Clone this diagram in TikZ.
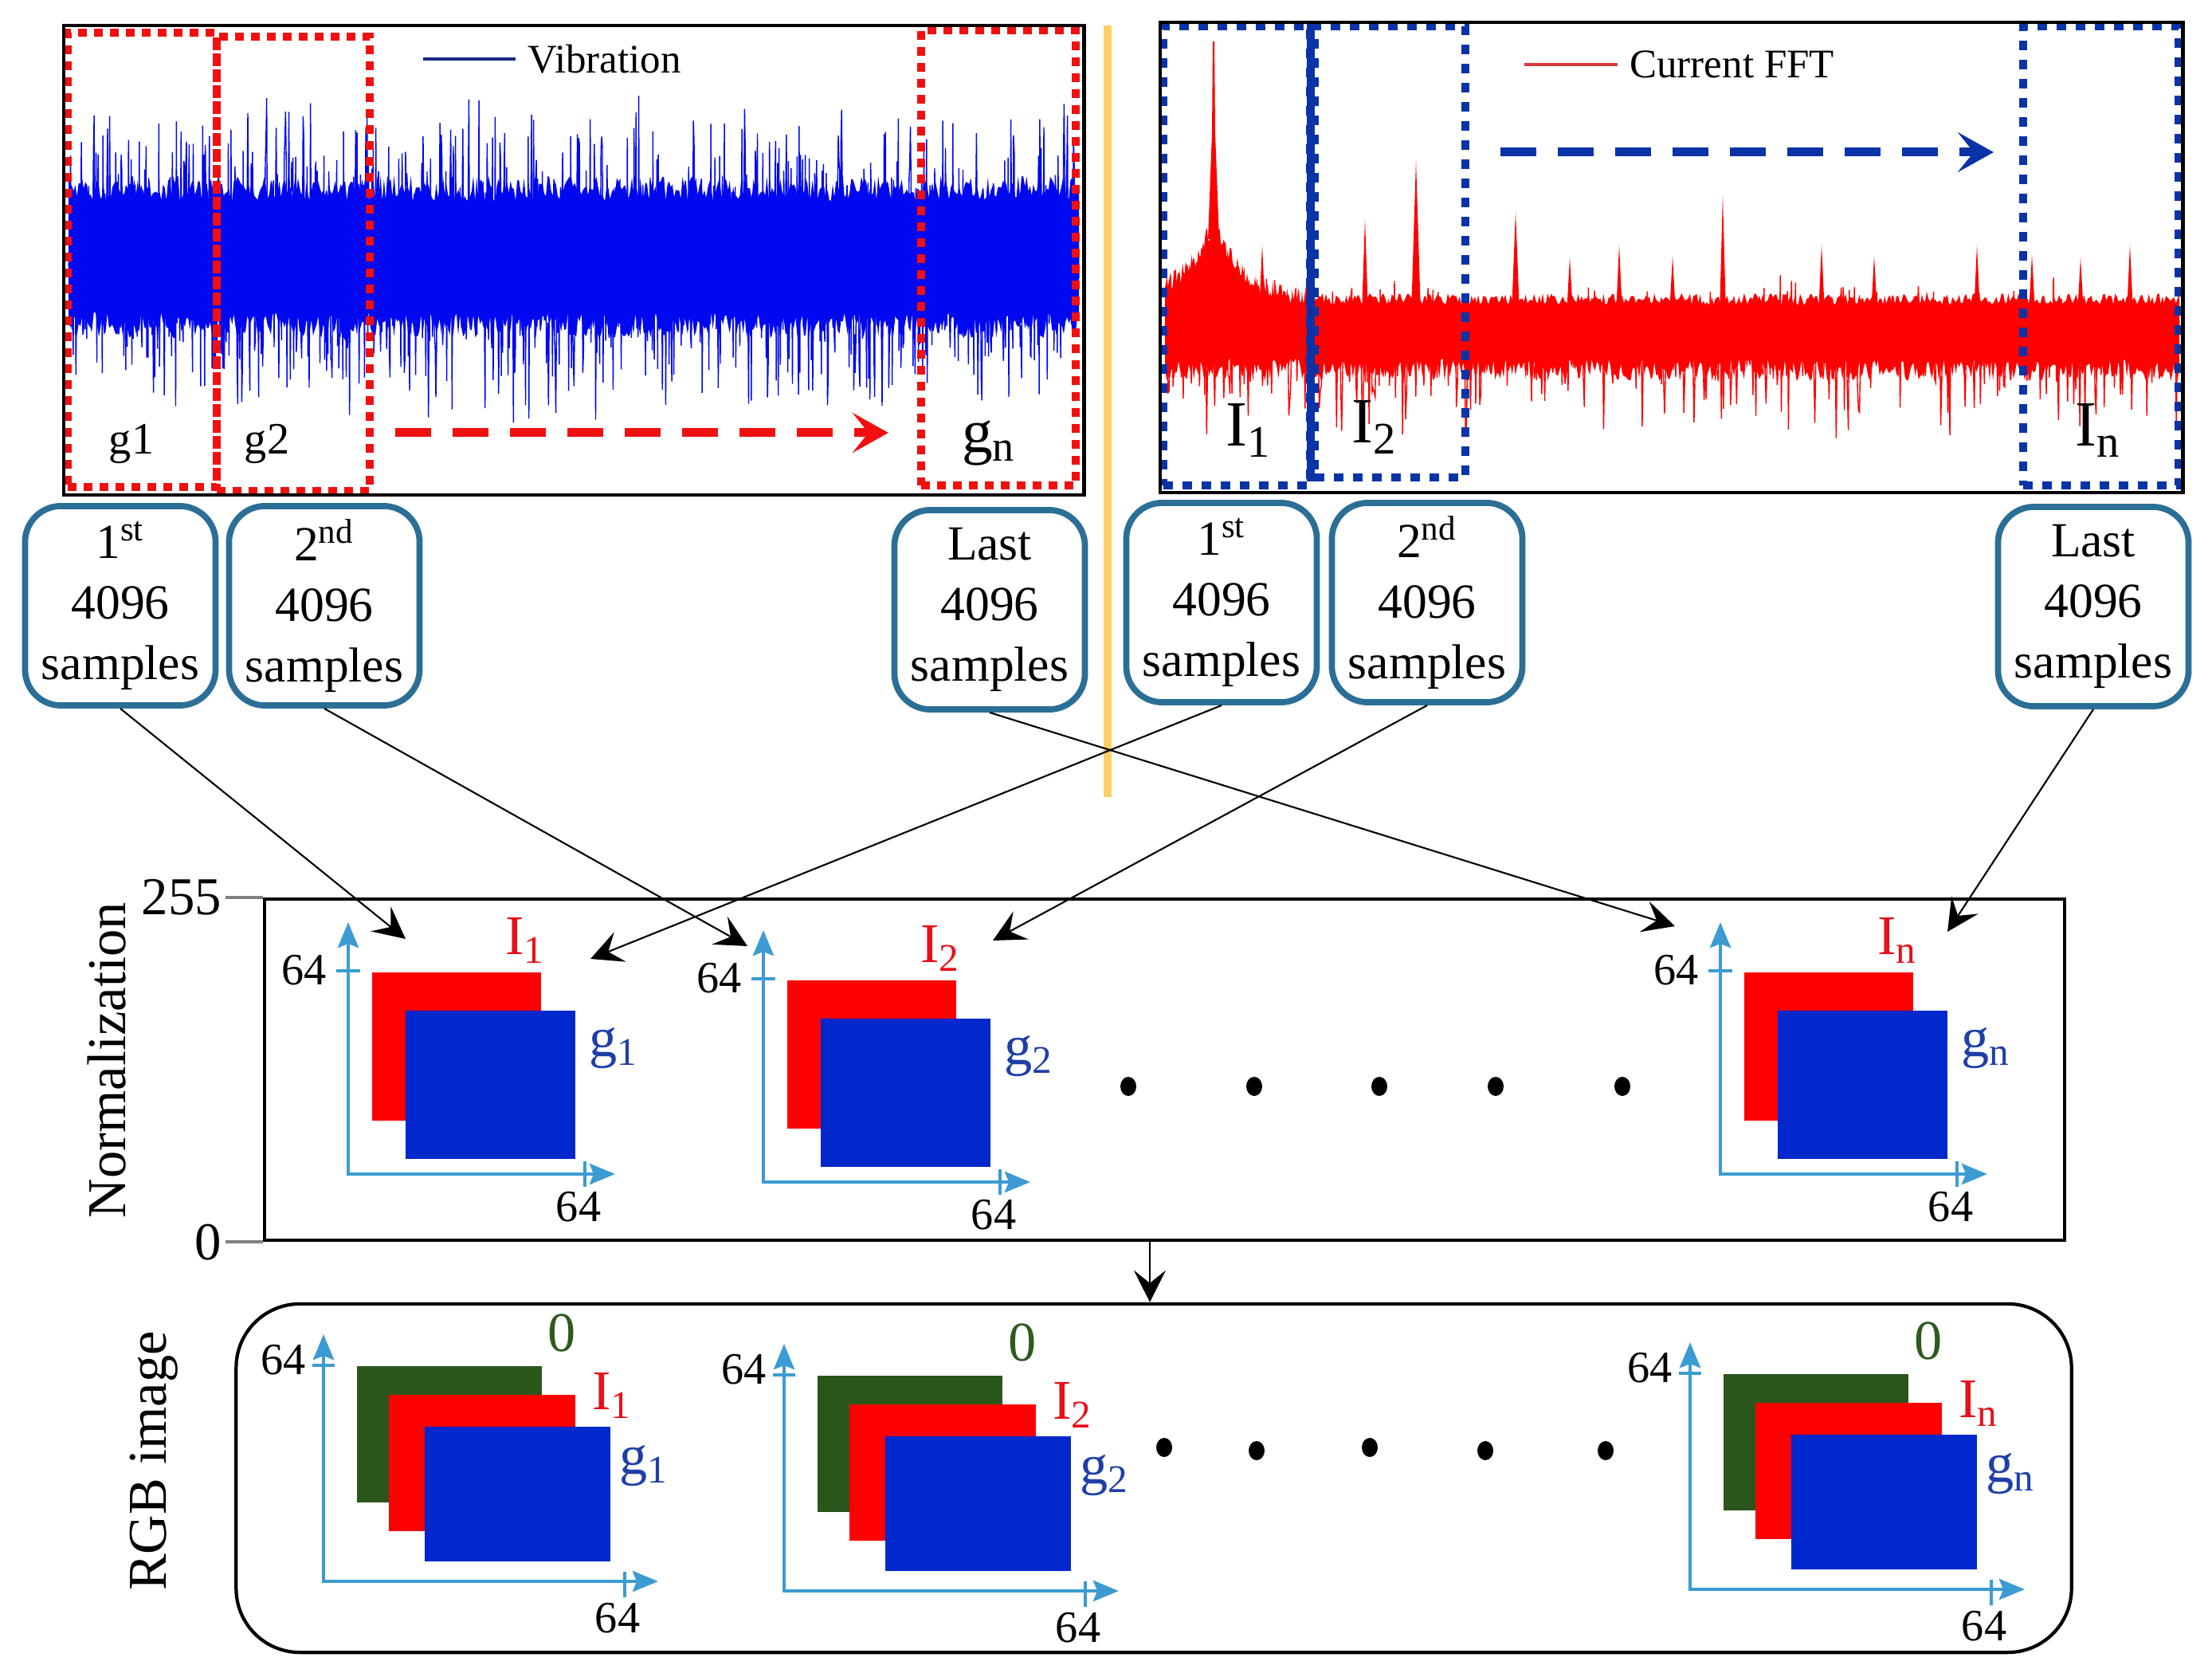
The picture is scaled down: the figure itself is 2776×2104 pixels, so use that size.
\documentclass[tikz,border=0pt]{standalone}
\usepackage{fontspec}
\setmainfont{Liberation Serif}
\usetikzlibrary{arrows.meta, positioning, calc}
\definecolor{vibblue}{HTML}{0008F0}
\definecolor{legnavy}{HTML}{1B2A8A}
\definecolor{fftred}{HTML}{FF0000}
\definecolor{legred}{HTML}{D83A3A}
\definecolor{winred}{HTML}{F01010}
\definecolor{winblue}{HTML}{0A33A8}
\definecolor{boxblue}{HTML}{2B6F97}
\definecolor{sepgold}{HTML}{FCCF66}
\definecolor{axisblue}{HTML}{3C9BD2}
\definecolor{chred}{HTML}{FF0000}
\definecolor{chblue}{HTML}{0028CC}
\definecolor{chgreen}{HTML}{2A561C}
\definecolor{labred}{HTML}{E8101A}
\definecolor{labblue}{HTML}{1F3FA8}
\definecolor{labgreen}{HTML}{2E5A20}

\begin{document}
\begin{tikzpicture}[x=0.01cm, y=-0.01cm,
  every node/.style={font=\rmfamily\fontsize{16}{19}\selectfont, inner sep=1pt},
  panel/.style={rectangle, draw=black, line width=1.2pt, inner sep=0pt},
  winr/.style={rectangle, draw=winred, line width=0.1cm, dash pattern=on 0.11cm off 0.09cm, inner sep=0pt},
  winb/.style={rectangle, draw=winblue, line width=0.1cm, dash pattern=on 0.12cm off 0.12cm, inner sep=0pt},
  samplebox/.style={rectangle, rounded corners=0.45cm, draw=boxblue, line width=2.2pt, minimum width=2.39cm, minimum height=2.5cm, align=center, font=\rmfamily\fontsize{17.5}{21.5}\selectfont},
  flow/.style={-{Stealth[length=0.4cm, width=0.4cm, inset=0.16cm]}, line width=0.6pt},
  sweep/.style={line width=0.11cm, dash pattern=on 0.45cm off 0.27cm, -{Stealth[length=0.45cm, width=0.5cm, inset=0.2cm]}},
  imgaxis/.style={draw=axisblue, line width=1.3pt, >={Stealth[length=0.32cm, width=0.26cm, inset=0.05cm]}, <->},
  axtick/.style={draw=axisblue, line width=1.3pt},
  lbl/.style={font=\rmfamily\fontsize{20}{24}\selectfont},
  biglbl/.style={font=\rmfamily\fontsize{23}{27}\selectfont},
  legend/.style={font=\rmfamily\fontsize{14.5}{17}\selectfont},
  sidetxt/.style={rotate=90, font=\rmfamily\fontsize{19.5}{23}\selectfont},
]
\useasboundingbox (0,0) rectangle (2776,2104);

% vibration signal
\pgfmathsetseed{11}
\fill[vibblue] plot[domain=86:1354, samples=600] (\x, {252-32*rnd}) -- plot[domain=1354:86, samples=600] (\x, {392+32*rnd}) -- cycle;
\draw[vibblue, line width=0.4pt] plot[domain=86:1354, samples=1500] (\x, {322+125*rand+90*rand});

% current FFT signal
\fill[fftred] plot[domain=1462:2735, samples=600] (\x, {382-14*rnd}) -- plot[domain=2735:1462, samples=600] (\x, {450+28*rnd}) -- cycle;
\draw[fftred, line width=0.4pt] plot[domain=1462:2735, samples=1000] (\x, {418+35*rand+110*pow(rnd,3)-45*pow(rnd,3)});
\fill[fftred] plot[domain=1462:1645, samples=150] (\x, {392-100*exp(-abs(\x-1523)/40)-25*rnd}) -- (1645,440) -- (1462,440) -- cycle;
\fill[fftred] (1516,300) -- (1521,166) -- (1522,52) -- (1524,52) -- (1525,166) -- (1530,300) -- cycle
  (1580,395) -- (1584,307) -- (1588,395) -- cycle
  (1709,395) -- (1713,274) -- (1717,395) -- cycle
  (1771,395) -- (1777,201) -- (1783,395) -- cycle
  (1897,395) -- (1902,265) -- (1907,395) -- cycle
  (1966,395) -- (1970,323) -- (1974,395) -- cycle
  (2028,395) -- (2032,307) -- (2036,395) -- cycle
  (2095,395) -- (2099,321) -- (2103,395) -- cycle
  (2158,395) -- (2162,245) -- (2166,395) -- cycle
  (2282,395) -- (2286,307) -- (2290,395) -- cycle
  (2348,395) -- (2352,321) -- (2356,395) -- cycle
  (2414,395) -- (2418,365) -- (2422,395) -- cycle
  (2477,395) -- (2481,307) -- (2485,395) -- cycle
  (2546,395) -- (2550,319) -- (2554,395) -- cycle
  (2607,395) -- (2611,323) -- (2615,395) -- cycle
  (2669,395) -- (2673,307) -- (2677,395) -- cycle;

% vibration panel
\node[winr, minimum width=1.87cm, minimum height=5.70cm] (w1) at (178.5,326) {};
\node[winr, minimum width=1.92cm, minimum height=5.70cm] (w2) at (368,331) {};
\node[winr, minimum width=1.94cm, minimum height=5.71cm] (wn) at (1253,323.5) {};
\node[panel, minimum width=12.8cm, minimum height=5.89cm] (vib) at (720,326.5) {};
\draw[legnavy, line width=1.1pt] (531,74) -- (647,74) node[right=0.1cm, text=black, legend] (vleg) {Vibration};
\node (lg1) at (165,557) {g1};
\node (lg2) at (335,557) {g2};
\node[font=\rmfamily\fontsize{22}{26}\selectfont] (lgn) at (1241,556) {g\textsubscript{n}};
\draw[sweep, winred] ([shift={(27,212)}]w2.east) -- ([shift={(-36,219.5)}]wn.west);

% current FFT panel
\node[winb, minimum width=1.84cm, minimum height=5.76cm] (wI1) at (1552,321) {};
\node[winb, minimum width=1.89cm, minimum height=5.66cm] (wI2) at (1744.5,316) {};
\node[winb, minimum width=1.95cm, minimum height=5.76cm] (wIn) at (2636.5,321) {};
\draw[winblue, line width=0.1cm] (wI2.north west) -- (wI2.south west);
\node[panel, minimum width=12.83cm, minimum height=5.9cm] (fft) at (2097.5,323) {};
\draw[legred, line width=1.1pt] (1913,81) -- (2030,81) node[right=0.1cm, text=black, legend] (fleg) {Current FFT};
\node[biglbl] (lI1) at (1567,540) {I\textsubscript{1}};
\node[biglbl] (lI2) at (1725,536) {I\textsubscript{2}};
\node[biglbl] (lIn) at (2633,540) {I\textsubscript{n}};
\draw[sweep, winblue] ([shift={(39,-125)}]wI2.east) -- ([shift={(-32,-130)}]wIn.west);

% separator
\draw[sepgold, line width=2.6pt] (1390,32) -- (1390,1000);

% sample blocks
\node[samplebox] (s1) at (151,760) {1\textsuperscript{st}\\4096\\samples};
\node[samplebox] (s2) at (407,760) {2\textsuperscript{nd}\\4096\\samples};
\node[samplebox] (s3) at (1242,765) {Last\\4096\\samples};
\node[samplebox] (s4) at (1533,756) {1\textsuperscript{st}\\4096\\samples};
\node[samplebox] (s5) at (1791,756) {2\textsuperscript{nd}\\4096\\samples};
\node[samplebox] (s6) at (2627,761) {Last\\4096\\samples};

% normalization stage
\node[draw, line width=1.2pt, minimum width=22.57cm, minimum height=4.28cm, inner sep=0pt] (norm) at (1461.5,1342) {};
\draw[gray, line width=1pt] (norm.north west) -- ++(-47,0) node[left, text=black, font=\rmfamily\fontsize{19}{23}\selectfont] (n255) {255};
\draw[gray, line width=1pt] (norm.south west) -- ++(-47,0) node[left, text=black, font=\rmfamily\fontsize{19}{23}\selectfont] (n0) {0};
\node[sidetxt] (normtxt) at (134,1330) {Normalization};

\begin{scope}[shift={(0,0)}]
\fill[chred] (467,1220) rectangle (679,1406);
\fill[chblue] (509,1268) rectangle (722,1454);
\draw[imgaxis] (437,1157) |- (772,1473);
\draw[axtick] (422,1218) -- (452,1218);
\draw[axtick] (734,1457) -- (734,1489);
\node[anchor=east] (ny1) at (414,1217) {64};
\node (nx1) at (726,1514) {64};
\node[lbl, text=labred] (ni1) at (659,1180) {I\textsubscript{1}};
\node[lbl, text=labblue] (ng1) at (770,1315) {g\textsubscript{1}};
\end{scope}
\begin{scope}[shift={(521,10)}]
\fill[chred] (467,1220) rectangle (679,1406);
\fill[chblue] (509,1268) rectangle (722,1454);
\draw[imgaxis] (437,1157) |- (772,1473);
\draw[axtick] (422,1218) -- (452,1218);
\draw[axtick] (734,1457) -- (734,1489);
\node[anchor=east] (ny2) at (414,1217) {64};
\node (nx2) at (726,1514) {64};
\node[lbl, text=labred] (ni2) at (659,1180) {I\textsubscript{2}};
\node[lbl, text=labblue] (ng2) at (770,1315) {g\textsubscript{2}};
\end{scope}
\begin{scope}[shift={(1722,0)}]
\fill[chred] (467,1220) rectangle (679,1406);
\fill[chblue] (509,1268) rectangle (722,1454);
\draw[imgaxis] (437,1157) |- (772,1473);
\draw[axtick] (422,1218) -- (452,1218);
\draw[axtick] (734,1457) -- (734,1489);
\node[anchor=east] (nyn) at (414,1217) {64};
\node (nxn) at (726,1514) {64};
\node[lbl, text=labred] (nin) at (659,1180) {I\textsubscript{n}};
\node[lbl, text=labblue] (ngn) at (770,1315) {g\textsubscript{n}};
\end{scope}
\fill (1416,1363) ellipse [x radius=0.1cm, y radius=0.12cm];
\fill (1574,1363) ellipse [x radius=0.1cm, y radius=0.12cm];
\fill (1731,1363) ellipse [x radius=0.1cm, y radius=0.12cm];
\fill (1877,1363) ellipse [x radius=0.1cm, y radius=0.12cm];
\fill (2036,1363) ellipse [x radius=0.1cm, y radius=0.12cm];

% RGB stage
\node[draw, line width=1.2pt, rounded corners=0.8cm, minimum width=23.02cm, minimum height=4.37cm, inner sep=0pt] (rgb) at (1448,1854.5) {};
\node[sidetxt] (rgbtxt) at (193,1833) {RGB image};
\coordinate (dn) at (1443,1600);
\draw[flow] (dn |- norm.south) -- (dn |- rgb.north);

\begin{scope}[shift={(0,0)}]
\fill[chgreen] (448,1714) rectangle (680,1885);
\fill[chred] (488,1750) rectangle (722,1921);
\fill[chblue] (533,1790) rectangle (766,1959);
\draw[imgaxis] (406,1674) |- (826,1984);
\draw[axtick] (392,1713) -- (420,1713);
\draw[axtick] (784,1972) -- (784,2004);
\node[anchor=east] (ry1) at (388,1706) {64};
\node (rx1) at (775,2030) {64};
\node[lbl, text=labgreen] (rz1) at (705,1672) {0};
\node[lbl, text=labred] (ri1) at (768,1751) {I\textsubscript{1}};
\node[lbl, text=labblue] (rg1) at (808,1839) {g\textsubscript{1}};
\end{scope}
\begin{scope}[shift={(578,12)}]
\fill[chgreen] (448,1714) rectangle (680,1885);
\fill[chred] (488,1750) rectangle (722,1921);
\fill[chblue] (533,1790) rectangle (766,1959);
\draw[imgaxis] (406,1674) |- (826,1984);
\draw[axtick] (392,1713) -- (420,1713);
\draw[axtick] (784,1972) -- (784,2004);
\node[anchor=east] (ry2) at (388,1706) {64};
\node (rx2) at (775,2030) {64};
\node[lbl, text=labgreen] (rz2) at (705,1672) {0};
\node[lbl, text=labred] (ri2) at (768,1751) {I\textsubscript{2}};
\node[lbl, text=labblue] (rg2) at (808,1839) {g\textsubscript{2}};
\end{scope}
\begin{scope}[shift={(1715,10)}]
\fill[chgreen] (448,1714) rectangle (680,1885);
\fill[chred] (488,1750) rectangle (722,1921);
\fill[chblue] (533,1790) rectangle (766,1959);
\draw[imgaxis] (406,1674) |- (826,1984);
\draw[axtick] (392,1713) -- (420,1713);
\draw[axtick] (784,1972) -- (784,2004);
\node[anchor=east] (ryn) at (388,1706) {64};
\node (rxn) at (775,2030) {64};
\node[lbl, text=labgreen] (rzn) at (705,1672) {0};
\node[lbl, text=labred] (rin) at (768,1751) {I\textsubscript{n}};
\node[lbl, text=labblue] (rgn) at (808,1839) {g\textsubscript{n}};
\end{scope}
\fill (1461,1816) ellipse [x radius=0.1cm, y radius=0.12cm];
\fill (1577,1820) ellipse [x radius=0.1cm, y radius=0.12cm];
\fill (1719,1816) ellipse [x radius=0.1cm, y radius=0.12cm];
\fill (1864,1820) ellipse [x radius=0.1cm, y radius=0.12cm];
\fill (2015,1820) ellipse [x radius=0.1cm, y radius=0.12cm];

% sample blocks to images
\coordinate (t1) at (509,1178);
\coordinate (t2) at (741,1203);
\coordinate (t3) at (938,1187);
\coordinate (t4) at (1246,1180);
\coordinate (t5) at (2102,1162);
\coordinate (t6) at (2444,1169);
\draw[flow] (s1.south) -- (t1);
\draw[flow] (s4.south) -- (t2);
\draw[flow] (s2.south) -- (t3);
\draw[flow] (s5.south) -- (t4);
\draw[flow] (s3.south) -- (t5);
\draw[flow] (s6.south) -- (t6);

\end{tikzpicture}
\end{document}
